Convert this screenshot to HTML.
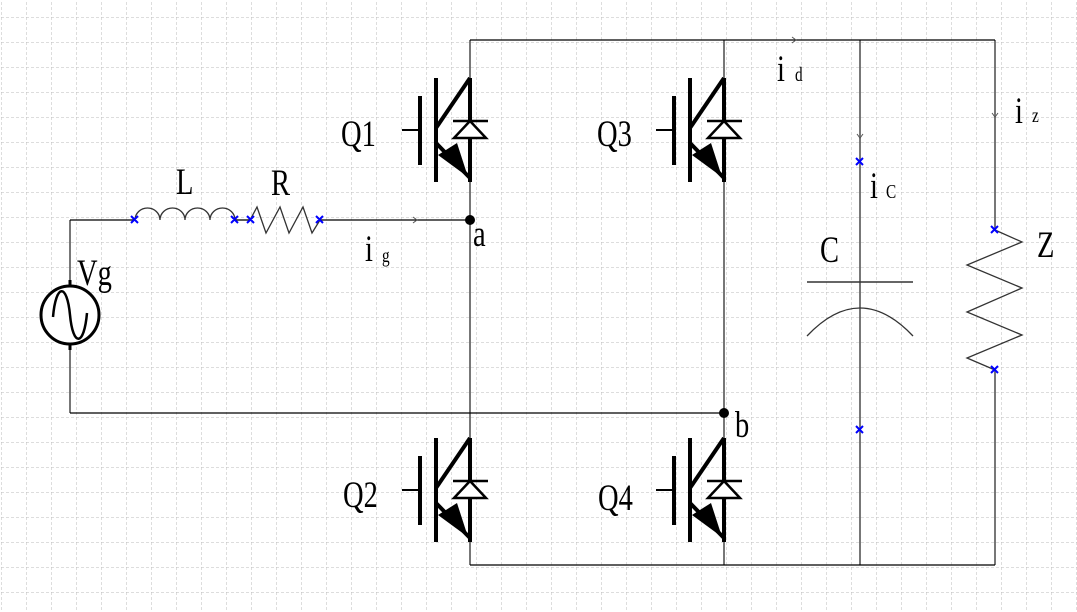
<!DOCTYPE html>
<html><head><meta charset="utf-8"><style>
html,body{margin:0;padding:0;background:#fff;}
svg{display:block}
text{font-family:"Liberation Serif",serif;fill:#000}
</style></head><body>
<svg width="1077" height="612" viewBox="0 0 1077 612" xmlns="http://www.w3.org/2000/svg">
<defs>
<pattern id="g" width="25" height="25" patternUnits="userSpaceOnUse" x="1" y="17">
<path d="M0 0H25M0 0V25" fill="none" stroke="#bbb" stroke-width="1" stroke-dasharray="3,2"/>
</pattern>
<g id="igbt">
<line x1="0" y1="-52" x2="0" y2="52" stroke="#000" stroke-width="4"/>
<line x1="-34" y1="-52" x2="-34" y2="52" stroke="#000" stroke-width="4"/>
<line x1="-50" y1="-34" x2="-50" y2="35" stroke="#000" stroke-width="4"/>
<line x1="-68" y1="0" x2="-50" y2="0" stroke="#000" stroke-width="2"/>
<line x1="-34" y1="-2" x2="0" y2="-52" stroke="#000" stroke-width="4"/>
<line x1="-34" y1="13" x2="0" y2="48" stroke="#000" stroke-width="4"/>
<polygon points="-32,25 -13,13 -2,47" fill="#000"/>
<line x1="-17" y1="-9" x2="18" y2="-9" stroke="#000" stroke-width="2.5"/>
<polygon points="0,-9 -16,8 16,8" fill="#fff" stroke="#000" stroke-width="2.5"/>
</g>
</defs>
<rect width="1077" height="612" fill="url(#g)"/>
<g fill="none" stroke-width="1.3">
<g stroke="#777" stroke-width="2">
<line x1="470" y1="40" x2="470" y2="565"/>
<line x1="724" y1="40" x2="724" y2="565"/>
<line x1="860" y1="40" x2="860" y2="565"/>
<line x1="995" y1="40" x2="995" y2="230"/>
<line x1="995" y1="370" x2="995" y2="565"/>
<line x1="70" y1="220" x2="70" y2="413"/>
</g>
<g stroke="#000">
<line x1="470" y1="40" x2="995" y2="40"/>
<line x1="470" y1="565" x2="995" y2="565"/>
<line x1="70" y1="220" x2="135" y2="220"/>
<line x1="320" y1="220" x2="470" y2="220"/>
<line x1="70" y1="413" x2="724" y2="413"/>
<line x1="235" y1="220" x2="250" y2="220"/>
<path d="M135 220 A12.5 12 0 0 1 160 220 A12.5 12 0 0 1 185 220 A12.5 12 0 0 1 210 220 A12.5 12 0 0 1 235 220" stroke="#333"/>
<polyline points="250,220 257,207 266,233 280,207 289,233 303,207 312,233 320,220" stroke="#333"/>
<line x1="807" y1="282" x2="913" y2="282" stroke="#333" stroke-width="1.5"/>
<path d="M807 336 Q860 280 913 336" stroke="#333"/>
<polyline points="995,230 1022,242 967,265 1022,288 967,312 1022,335 967,358 995,370" stroke="#333"/>
<circle cx="70" cy="315" r="29" fill="#fff" stroke-width="3"/>
<path d="M53 317 C56 283 67 283 70 315 C73 347 84 347 87 313" stroke-width="2.5"/>
<line x1="70" y1="280" x2="70" y2="286" stroke-width="3"/>
<line x1="70" y1="344" x2="70" y2="350" stroke-width="3"/>
<path d="M413 217 l4 3 -4 3" stroke="#555" stroke-width="1"/>
<path d="M792 37 l4 3 -4 3" stroke="#555" stroke-width="1"/>
<path d="M857 134 l3 4 3 -4" stroke="#555" stroke-width="1"/>
<path d="M992 113 l3 4 3 -4" stroke="#555" stroke-width="1"/>
</g>
<g stroke="#00f" stroke-width="2">
<path d="M131 216l7 7M138 216l-7 7M231 216l7 7M238 216l-7 7M247 216l7 7M254 216l-7 7M316 216l7 7M323 216l-7 7"/>
<path d="M856 158l7 7M863 158l-7 7M991 226l7 7M998 226l-7 7M991 366l7 7M998 366l-7 7M856 426l7 7M863 426l-7 7"/>
</g>
</g>
<circle cx="470" cy="220" r="5" fill="#000"/>
<circle cx="724" cy="413" r="5" fill="#000"/>
<use href="#igbt" x="470" y="130"/>
<use href="#igbt" x="724" y="130"/>
<use href="#igbt" x="470" y="490"/>
<use href="#igbt" x="724" y="490"/>
<g font-size="30">
<text transform="translate(341,146) scale(0.95,1.25)">Q1</text>
<text transform="translate(597,146) scale(0.95,1.25)">Q3</text>
<text transform="translate(343,507) scale(0.95,1.25)">Q2</text>
<text transform="translate(598,510) scale(0.95,1.25)">Q4</text>
<text transform="translate(176,194) scale(0.95,1.25)">L</text>
<text transform="translate(271,195) scale(0.95,1.25)">R</text>
<text transform="translate(77,285) scale(0.95,1.25)">Vg</text>
<text transform="translate(473,246) scale(0.95,1.25)">a</text>
<text transform="translate(735,437) scale(0.95,1.25)">b</text>
<text transform="translate(820,262) scale(0.95,1.25)">C</text>
<text transform="translate(1037,257) scale(0.95,1.25)">Z</text>
<text transform="translate(365,261) scale(0.95,1.25)">i</text>
<text transform="translate(777,81) scale(0.95,1.25)">i</text>
<text transform="translate(870,198) scale(0.95,1.25)">i</text>
<text transform="translate(1015,123) scale(0.95,1.25)">i</text>
</g>
<g font-size="17" fill="#333">
<text transform="translate(382,262) scale(0.9,1.2)">g</text>
<text transform="translate(795,81) scale(0.9,1.2)">d</text>
<text transform="translate(886,198) scale(0.9,1.2)">C</text>
<text transform="translate(1032,122) scale(0.9,1.2)">z</text>
</g>
</svg>
</body></html>
